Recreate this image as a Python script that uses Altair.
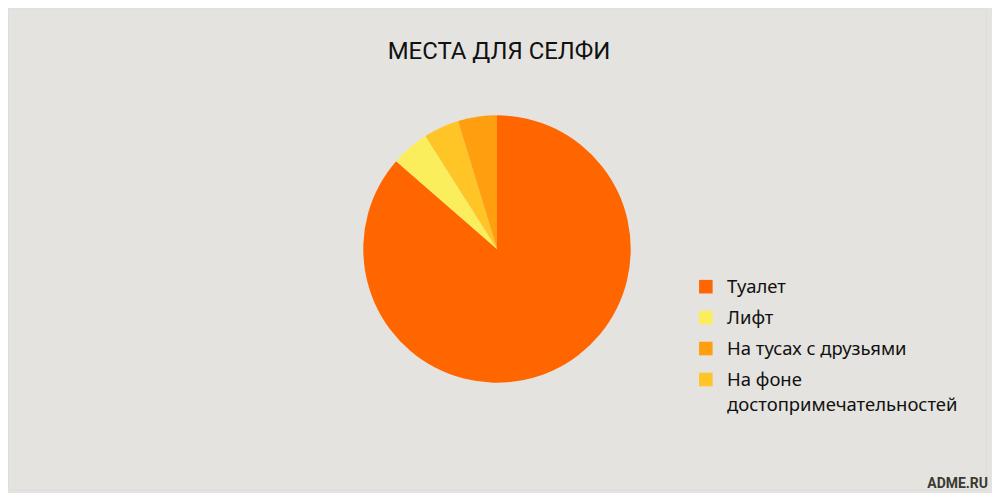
import altair as alt
import pandas as pd

# slices in drawing order (clockwise from 12 o'clock)
places = ["Туалет", "Лифт", "На фоне достопримечательностей", "На тусах с друзьями"]
shares = [86.4, 4.6, 4.3, 4.7]

# legend order and colours
legend_order = ["Туалет", "Лифт", "На тусах с друзьями", "На фоне достопримечательностей"]
legend_colors = ["#FF6600", "#FBEE5C", "#FF9F10", "#FFC425"]

title_text = "МЕСТА ДЛЯ СЕЛФИ"
brand_text = "ADME.RU"

df = pd.DataFrame({"place": places, "share": shares, "k": range(len(places))})

# square symbol moved down a little so it sits level with the first text line
square = "M-1,0.25H1V2.25H-1Z"

pie = alt.Chart(df).mark_arc(outerRadius=134).encode(
    theta=alt.Theta("share:Q", stack=True),
    order=alt.Order("k:Q"),
    color=alt.Color(
        "place:N",
        scale=alt.Scale(domain=legend_order, range=legend_colors),
        legend=alt.Legend(
            title=None,
            orient="none",
            legendX=690,
            legendY=261,
            symbolType=square,
            symbolSize=185,
            symbolStrokeWidth=0,
            labelFont="Noto Sans",
            labelFontSize=18.5,
            labelColor="#111111",
            labelLimit=400,
            labelOffset=12,
            rowPadding=3,
            labelBaseline="top",
            labelExpr="datum.label == 'На фоне достопримечательностей' ? ['На фоне', 'достопримечательностей'] : datum.label",
        ),
    ),
)

title = alt.Chart(pd.DataFrame({"t": [title_text]})).mark_text(
    font="Roboto", fontSize=24, color="#111111", baseline="middle", align="center"
).encode(text="t:N", x=alt.value(492), y=alt.value(44))

brand = alt.Chart(pd.DataFrame({"t": [brand_text]})).mark_text(
    font="Roboto", fontSize=14, fontWeight="bold", color="#3a3a30", baseline="middle", align="right"
).encode(text="t:N", x=alt.value(982), y=alt.value(476))

chart = (pie + title + brand).properties(
    width=980, height=482,
    padding={"left": 0, "top": 0, "right": 4, "bottom": 2},
    background="#E4E3DF",
).configure_view(stroke=None).configure(
    style={"guide-label": {"lineHeight": 25}}
)

chart.save("out.html", embed_options={"renderer": "svg", "actions": False})
